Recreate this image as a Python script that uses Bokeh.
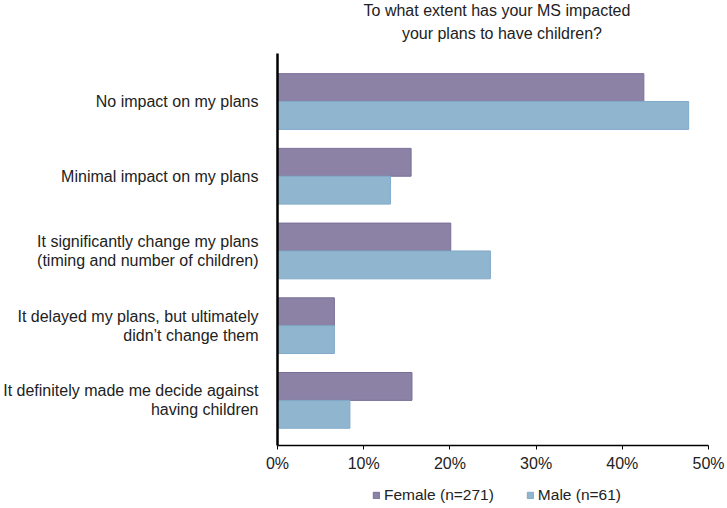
from bokeh.plotting import figure
from bokeh.layouts import column
from bokeh.models import (ColumnDataSource, Range1d, FixedTicker, PrintfTickFormatter,
                          Legend, LegendItem)
from bokeh.core.properties import value
from bokeh.embed import file_html
from bokeh.resources import INLINE

categories = [
    "No impact on my plans",
    "Minimal impact on my plans",
    "It significantly change my plans\n(timing and number of children)",
    "It delayed my plans, but ultimately\ndidn\u2019t change them",
    "It definitely made me decide against\nhaving children",
]
female = [42.5, 15.5, 20.1, 6.6, 15.6]
male = [47.7, 13.1, 24.7, 6.6, 8.4]
series_names = ["Female (n=271)", "Male (n=61)"]
title_lines = ["To what extent has your MS impacted", "your plans to have children?"]
x_ticks = [0, 10, 20, 30, 40, 50]

FONT = "Liberation Sans"
TXT = "#222222"
COL_F, LINE_F = "#8B82A6", "#7A6F98"
COL_M, LINE_M = "#8FB6CE", "#80AACA"
W = 727
FL, FR = 274, 708  # frame edges shared by the aligned column

n = len(categories)
pos = [n - 1 - i for i in range(n)]
bar_h = 0.373

# ---- title strip (frame aligned with main chart frame) ----
TH = 53
pt = figure(width=W, height=TH, output_backend="svg", toolbar_location=None,
            x_range=Range1d(FL, FR), y_range=Range1d(0, TH),
            x_axis_type=None, y_axis_type=None, min_border=0,
            min_border_left=0, min_border_right=0, min_border_top=0, min_border_bottom=0)
pt.outline_line_color = None
pt.text(x=[495, 500], y=[TH - 10, TH - 33], text=title_lines,
        text_font=value(FONT), text_font_size="16px", text_color=TXT,
        text_align="center", text_baseline="middle")

# ---- main chart ----
src_f = ColumnDataSource(dict(y=[p + bar_h / 2 for p in pos], v=female))
src_m = ColumnDataSource(dict(y=[p - bar_h / 2 for p in pos], v=male))

p = figure(width=W, height=425, output_backend="svg", toolbar_location=None,
           x_range=Range1d(0, 50), y_range=Range1d(-0.604, n - 1 + 0.643),
           min_border_left=FL, min_border_right=W - FR, min_border_top=0,
           min_border_bottom=33)

p.hbar(y="y", right="v", left=0, height=bar_h, source=src_f,
       fill_color=COL_F, line_color=LINE_F, line_width=1)
p.hbar(y="y", right="v", left=0, height=bar_h, source=src_m,
       fill_color=COL_M, line_color=LINE_M, line_width=1)

p.outline_line_color = None
p.grid.visible = False

p.xaxis.ticker = FixedTicker(ticks=x_ticks)
p.xaxis.formatter = PrintfTickFormatter(format="%d%%")
p.xaxis.minor_tick_line_color = None
p.xaxis.major_tick_out = 4
p.xaxis.major_tick_in = 0
p.xaxis.axis_line_width = 1.5
p.xaxis.axis_line_color = "black"
p.xaxis.major_tick_line_color = "black"
p.xaxis.major_label_text_font = FONT
p.xaxis.major_label_text_font_size = "16px"
p.xaxis.major_label_text_color = TXT
p.xaxis.major_label_standoff = 5

p.yaxis.ticker = FixedTicker(ticks=pos)
p.yaxis.major_label_overrides = {pos[i]: categories[i] for i in range(n)}
p.yaxis.minor_tick_line_color = None
p.yaxis.major_tick_line_color = None
p.yaxis.axis_line_width = 2.5
p.yaxis.axis_line_color = "black"
p.yaxis.major_label_text_font = FONT
p.yaxis.major_label_text_font_size = "16px"
p.yaxis.major_label_text_color = TXT
p.yaxis.major_label_text_line_height = 1.12
p.yaxis.major_label_standoff = 13

# ---- legend strip (frame aligned with main chart frame) ----
pl = figure(width=W, height=30, output_backend="svg", toolbar_location=None,
            x_range=Range1d(0, 1), y_range=Range1d(0, 1),
            x_axis_type=None, y_axis_type=None, min_border=0,
            min_border_left=0, min_border_right=0, min_border_top=0, min_border_bottom=0)
pl.outline_line_color = None
# one-row legend-key sources placed outside the visible range (only the legend shows them)
key_f = ColumnDataSource(dict(y=[-5], right=[0]))
key_m = ColumnDataSource(dict(y=[-5], right=[0]))
lf = pl.hbar(y="y", right="right", left=0, height=0.5, source=key_f,
             fill_color=COL_F, line_color=LINE_F)
lm = pl.hbar(y="y", right="right", left=0, height=0.5, source=key_m,
             fill_color=COL_M, line_color=LINE_M)
legend = Legend(items=[LegendItem(label=series_names[0], renderers=[lf], index=0),
                       LegendItem(label=series_names[1], renderers=[lm], index=0)],
                orientation="horizontal", location=(95, 4),
                glyph_width=8, glyph_height=8, label_standoff=4, spacing=32,
                label_text_font=FONT, label_text_font_size="15.5px",
                label_text_color=TXT, border_line_color=None,
                background_fill_alpha=0, padding=2, margin=0)
pl.add_layout(legend)

layout = column(pt, p, pl, spacing=0)
open("out.html", "w").write(file_html(layout, INLINE))
